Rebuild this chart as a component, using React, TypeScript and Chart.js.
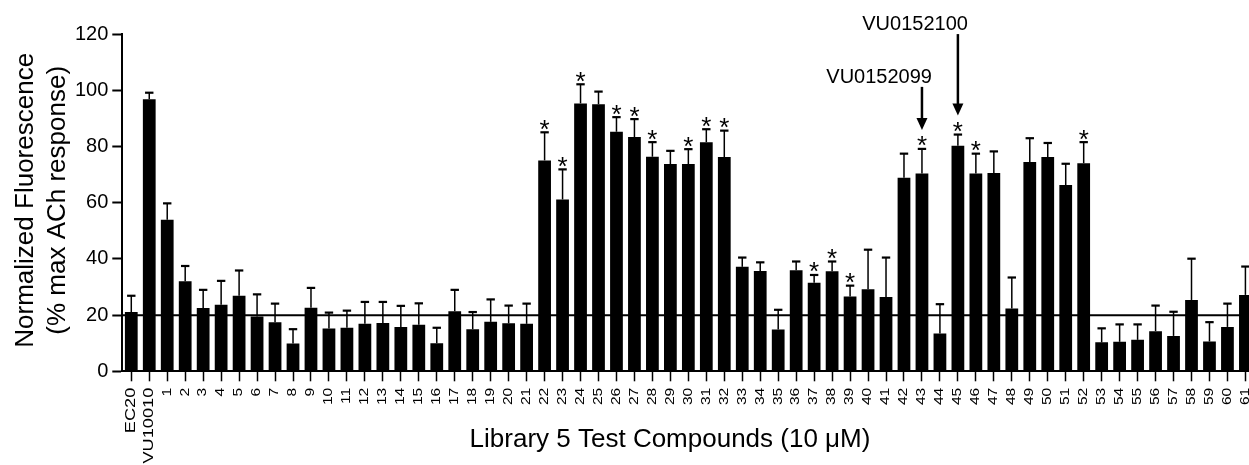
import React, { useEffect, useRef } from 'react';
import { Chart, registerables } from 'chart.js';

Chart.register(...registerables);

const FONT = '"Liberation Sans", Arial, Helvetica, sans-serif';

// Category (tick) labels
const categories = [
  'EC20', 'VU10010',
  '1', '2', '3', '4', '5', '6', '7', '8', '9', '10',
  '11', '12', '13', '14', '15', '16', '17', '18', '19', '20',
  '21', '22', '23', '24', '25', '26', '27', '28', '29', '30',
  '31', '32', '33', '34', '35', '36', '37', '38', '39', '40',
  '41', '42', '43', '44', '45', '46', '47', '48', '49', '50',
  '51', '52', '53', '54', '55', '56', '57', '58', '59', '60', '61',
];

// Mean normalized fluorescence (% max ACh response)
const means = [
  21.1, 96.9,
  54.0, 32.1, 22.5, 23.7, 26.9, 19.5, 17.5, 9.9, 22.6, 15.2,
  15.5, 16.9, 17.2, 15.8, 16.6, 10.0, 21.4, 15.0, 17.6, 17.1,
  16.9, 75.1, 61.2, 95.4, 95.1, 85.3, 83.4, 76.4, 73.8, 73.8,
  81.6, 76.3, 37.2, 35.7, 14.9, 36.0, 31.5, 35.6, 26.6, 29.2,
  26.5, 68.9, 70.4, 13.5, 80.3, 70.4, 70.6, 22.4, 74.5, 76.3,
  66.3, 74.1, 10.3, 10.5, 11.2, 14.3, 12.6, 25.4, 10.6, 15.8, 27.2,
];

// Upper error (SEM) for each bar
const errors = [
  5.8, 2.3,
  5.8, 5.4, 6.5, 8.5, 9.0, 7.9, 6.6, 5.1, 7.1, 5.7,
  6.1, 7.8, 7.5, 7.5, 7.6, 5.5, 7.6, 6.1, 8.0, 6.3,
  7.2, 10.0, 10.7, 6.8, 4.5, 5.2, 6.4, 5.2, 4.7, 5.3,
  4.6, 9.4, 3.3, 3.1, 7.0, 3.1, 2.8, 3.5, 3.9, 14.1,
  14.0, 8.6, 8.8, 10.4, 4.0, 7.1, 7.7, 11.0, 8.5, 5.0,
  7.6, 7.5, 5.0, 6.2, 5.5, 9.1, 8.6, 14.7, 6.9, 8.3, 10.1,
];

// Compounds marked significant (*)
const significant = [
  '22', '23', '24', '26', '27', '28', '30', '31', '32',
  '37', '38', '39', '43', '45', '46', '52',
];

// Arrow call-outs: category, text, and text baseline level (axis units)
const calloutCategories = ['43', '45'];
const calloutTexts = ['VU0152099', 'VU0152100'];
const calloutLevels = [102.7, 121.5];

const referenceLevel = 20;
const yMin = 0;
const yMax = 120;
const yStep = 20;

const xTitle = 'Library 5 Test Compounds (10 μM)';
const yTitleLines = ['Normalized Fluorescence', '(% max ACh response)'];

const overlayPlugin = {
  id: 'overlay',
  afterDatasetsDraw(chart: any) {
    const ctx = chart.ctx as CanvasRenderingContext2D;
    const xs = chart.scales.x;
    const ys = chart.scales.y;
    const area = chart.chartArea;
    ctx.save();
    ctx.strokeStyle = '#000';
    ctx.fillStyle = '#000';

    // reference line
    const ry = ys.getPixelForValue(referenceLevel);
    ctx.lineWidth = 2;
    ctx.beginPath();
    ctx.moveTo(area.left, ry);
    ctx.lineTo(area.right, ry);
    ctx.stroke();

    // error bars
    categories.forEach((_, i) => {
      const px = xs.getPixelForValue(i);
      const y0 = ys.getPixelForValue(means[i]);
      const y1 = ys.getPixelForValue(means[i] + errors[i]);
      ctx.lineWidth = 1.5;
      ctx.beginPath();
      ctx.moveTo(px, y0);
      ctx.lineTo(px, y1);
      ctx.stroke();
      ctx.lineWidth = 2.2;
      ctx.beginPath();
      ctx.moveTo(px - 4.2, y1);
      ctx.lineTo(px + 4.2, y1);
      ctx.stroke();
    });

    // asterisks
    ctx.font = `26px ${FONT}`;
    ctx.textAlign = 'center';
    ctx.textBaseline = 'alphabetic';
    const m = ctx.measureText('*');
    significant.forEach((lbl) => {
      const i = categories.indexOf(lbl);
      const px = xs.getPixelForValue(i);
      const capY = ys.getPixelForValue(means[i] + errors[i]);
      const bottom = capY - 2.6;
      ctx.fillText('*', px, bottom - m.actualBoundingBoxDescent);
    });

    // call-out arrows
    calloutCategories.forEach((lbl, k) => {
      const i = categories.indexOf(lbl);
      const px = xs.getPixelForValue(i);
      const capY = ys.getPixelForValue(means[i] + errors[i]);
      const tipY = capY - 19;
      const baseY = ys.getPixelForValue(calloutLevels[k]);
      ctx.font = `20px ${FONT}`;
      ctx.textAlign = 'right';
      ctx.textBaseline = 'alphabetic';
      ctx.fillText(calloutTexts[k], px + 10, baseY);
      ctx.lineWidth = 2.5;
      ctx.beginPath();
      ctx.moveTo(px, baseY + 4);
      ctx.lineTo(px, tipY - 10);
      ctx.stroke();
      ctx.beginPath();
      ctx.moveTo(px - 5.5, tipY - 12);
      ctx.lineTo(px + 5.5, tipY - 12);
      ctx.lineTo(px, tipY);
      ctx.closePath();
      ctx.fill();
    });

    // x tick labels (rotated, stretched along their length)
    ctx.textAlign = 'right';
    ctx.textBaseline = 'middle';
    categories.forEach((c, i) => {
      const px = xs.getPixelForValue(i);
      const size = i < 2 ? 14 : 12;
      ctx.font = `${size}px ${FONT}`;
      ctx.save();
      ctx.translate(px, area.bottom + 16.4);
      ctx.rotate(-Math.PI / 2);
      ctx.scale(1.3, 1);
      ctx.fillText(c, 0, 0);
      ctx.restore();
    });

    // axis titles
    ctx.font = `26px ${FONT}`;
    ctx.textAlign = 'center';
    ctx.textBaseline = 'alphabetic';
    ctx.fillText(xTitle, 670, 446.7);

    const yCenter = (area.top + area.bottom) / 2 - 2.5;
    [33, 64.5].forEach((bx, k) => {
      ctx.save();
      ctx.translate(bx, yCenter);
      ctx.rotate(-Math.PI / 2);
      ctx.fillText(yTitleLines[k], 0, 0);
      ctx.restore();
    });

    ctx.restore();
  },
};

export default function App() {
  const canvasRef = useRef<HTMLCanvasElement | null>(null);

  useEffect(() => {
    const canvas = canvasRef.current;
    if (!canvas) return;
    const chart = new Chart(canvas, {
      type: 'bar',
      data: {
        labels: categories,
        datasets: [
          {
            data: means,
            backgroundColor: '#000',
            borderWidth: 0,
            barPercentage: 0.71,
            categoryPercentage: 1,
          },
        ],
      },
      options: {
        animation: false,
        responsive: false,
        devicePixelRatio: 1,
        layout: { padding: { top: 34.3, right: 15.6, left: 0, bottom: 0 } },
        plugins: {
          legend: { display: false },
          tooltip: { enabled: false },
        },
        scales: {
          x: {
            type: 'category',
            offset: true,
            grid: {
              display: true,
              drawOnChartArea: false,
              offset: false,
              drawTicks: true,
              tickLength: 10,
              tickWidth: 1.5,
              tickColor: '#000',
            },
            border: { display: true, color: '#000', width: 2 },
            ticks: { display: false, autoSkip: false },
            afterFit: (s: any) => {
              s.height = 93.7;
            },
          },
          y: {
            min: yMin,
            max: yMax,
            ticks: {
              stepSize: yStep,
              color: '#000',
              font: { family: FONT, size: 20 },
              padding: 4,
            },
            grid: {
              drawOnChartArea: false,
              tickLength: 10,
              tickWidth: 2,
              tickColor: '#000',
            },
            border: { display: true, color: '#000', width: 2 },
            afterFit: (s: any) => {
              s.width = 122.3;
            },
          },
        },
      },
      plugins: [overlayPlugin],
    } as any);
    return () => chart.destroy();
  }, []);

  return (
    <div
      style={{
        position: 'fixed',
        left: 0,
        top: 0,
        width: 1249,
        height: 465,
        overflow: 'hidden',
        background: '#fff',
      }}
    >
      <canvas
        ref={canvasRef}
        width={1270}
        height={465}
        style={{ display: 'block', width: 1270, height: 465 }}
      />
    </div>
  );
}
